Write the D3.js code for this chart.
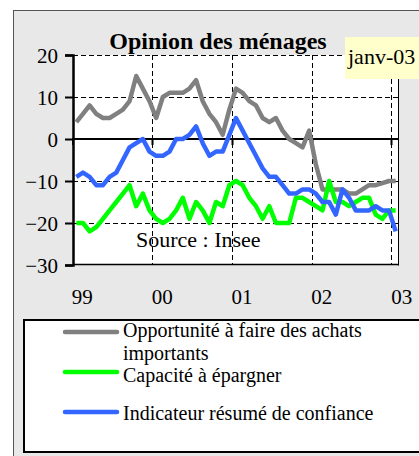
<!DOCTYPE html>
<html>
<head>
<meta charset="utf-8">
<script src="https://cdn.jsdelivr.net/npm/d3@7.9.0/dist/d3.min.js"></script>
<style>
  html, body { margin: 0; padding: 0; background: #fff; }
  svg { display: block; font-family: "Liberation Serif", "DejaVu Serif", serif; }
</style>
</head>
<body>
<svg id="chart" width="419" height="456"></svg>
<script>
// monthly values, janv-99 .. janv-03
const months = d3.timeMonths(new Date(1999, 0, 1), new Date(2003, 1, 1));

const achats = [4, 6, 8, 6, 5, 5, 6, 7, 9, 15, 12, 9, 5, 10, 11, 11, 11, 12, 14, 9,
  6, 4, 1, 7, 12, 11, 9, 8, 5, 4, 5, 2, 0, -1, -2, 2, -6, -12, -12, -12,
  -12, -13, -13, -12, -11, -11, -10.5, -10, -10];
const epargne = [-20, -20, -22, -21, -19, -17, -15, -13, -11, -16, -13, -17, -19, -20, -19, -17, -14, -19, -15, -17,
  -20, -15, -16, -11, -10, -11, -14, -16, -19, -16, -20, -20, -20, -14, -14, -15, -16, -17, -10, -15,
  -15, -16, -15, -14, -14, -18, -19, -17, -17];
const confiance = [-9, -8, -9, -11, -11, -9, -8, -5, -2, -1, 0, -3, -4, -4, -3, 0, 0, 1, 3, -1,
  -4, -3, -3, 1, 5, 2, -1, -4, -7, -9, -9, -11, -13, -13, -12, -12, -13, -15, -15, -18,
  -12, -14, -17, -17, -17, -16, -17, -17, -22];

const yTicks = [20, 10, 0, -10, -20, -30];
const yearLabels = ['99', '00', '01', '02', '03'];

const series = [
  { name: 'Opportunité à faire des achats', name2: 'importants', values: achats, color: '#808080' },
  { name: 'Capacité à épargner', values: epargne, color: '#00ff00' },
  { name: 'Indicateur résumé de confiance', values: confiance, color: '#3366ff' },
];

const svg = d3.select('#chart');

// outer chart area
svg.append('rect')
  .attr('x', 13.5).attr('y', 10.5).attr('width', 420).attr('height', 460)
  .attr('fill', '#e8e8e8').attr('stroke', '#555').attr('stroke-width', 1);

const x = d3.scaleBand().domain(d3.range(months.length)).range([73, 399]);
const y = d3.scaleLinear().domain([-30, 20]).range([265, 55]);
const cx = (i) => x(i) + x.bandwidth() / 2;

// plot area
svg.append('rect')
  .attr('x', 73).attr('y', y(20)).attr('width', 399 - 73).attr('height', y(-30) - y(20))
  .attr('fill', '#fff');

const grid = svg.append('g').attr('stroke', '#000').attr('stroke-width', 1).attr('stroke-dasharray', '5,3');
yTicks.filter((t) => t !== 0 && t !== -30).forEach((t) => {
  grid.append('line')
    .attr('x1', 73).attr('x2', 398.5)
    .attr('y1', Math.round(y(t)) + 0.5).attr('y2', Math.round(y(t)) + 0.5);
});
yearLabels.forEach((lab, k) => {
  if (k === 0) return;
  const gx = Math.round(x(k * 12)) - 0.5;
  grid.append('line').attr('x1', gx).attr('x2', gx).attr('y1', y(20)).attr('y2', y(-30));
});

// borders of plot area
svg.append('line').attr('x1', 398.5).attr('x2', 398.5).attr('y1', y(20)).attr('y2', y(-30) + 0.5)
  .attr('stroke', '#000');
svg.append('line').attr('x1', 73).attr('x2', 399).attr('y1', y(-30) - 0.5).attr('y2', y(-30) - 0.5)
  .attr('stroke', '#000').attr('stroke-width', 1.5);

// y axis
const yAxis = svg.append('g').attr('transform', 'translate(73,0)')
  .call(d3.axisLeft(y).tickValues(yTicks).tickSize(8).tickFormat(d3.format('d')));
yAxis.attr('font-family', null).attr('font-size', null);
yAxis.select('.domain').attr('stroke', '#000').attr('stroke-width', 2.5);
yAxis.selectAll('.tick line').attr('stroke', '#000').attr('stroke-width', 2);
yAxis.selectAll('.tick text')
  .attr('x', -15).attr('dy', '0.34em')
  .attr('font-size', 21).attr('fill', '#000');

// zero line with year ticks
const xAxis = svg.append('g').attr('transform', `translate(0,${y(0)})`)
  .call(d3.axisBottom(x).tickValues([0, 12, 24, 36, 48]).tickSize(6).tickFormat(''));
xAxis.select('.domain').attr('d', 'M73,0H399').attr('stroke', '#000').attr('stroke-width', 2);
xAxis.selectAll('.tick')
  .attr('transform', (d) => `translate(${d === 0 ? 73 : Math.round(x(d)) - 0.5},0)`);
xAxis.selectAll('.tick line').attr('y1', -1).attr('stroke', '#000').attr('stroke-width', 2);

// year labels
svg.append('g').selectAll('text').data(yearLabels).join('text')
  .attr('x', (d, k) => cx(k * 12) + 6)
  .attr('y', 304)
  .attr('text-anchor', 'middle')
  .attr('font-size', 21)
  .text((d) => d);

// source
svg.append('text').attr('x', 136).attr('y', 247).attr('font-size', 22).text('Source : Insee');

// lines
const line = d3.line().x((d, i) => cx(i)).y((d) => y(d));
series.forEach((s) => {
  svg.append('path')
    .datum(s.values)
    .attr('d', line)
    .attr('fill', 'none')
    .attr('stroke', s.color)
    .attr('stroke-width', 4.5)
    .attr('stroke-linejoin', 'round');
});

// title
svg.append('text').attr('x', 218).attr('y', 49)
  .attr('text-anchor', 'middle').attr('font-weight', 'bold').attr('font-size', 24)
  .text('Opinion des ménages');

// date label box
svg.append('rect').attr('x', 345).attr('y', 37).attr('width', 80).attr('height', 42).attr('fill', '#ffffcc');
svg.append('text').attr('x', 348).attr('y', 64).attr('font-size', 22).text('janv-03');

// legend
const legend = svg.append('g');
legend.append('rect')
  .attr('x', 24).attr('y', 320).attr('width', 410).attr('height', 132)
  .attr('fill', '#fff').attr('stroke', '#000').attr('stroke-width', 2);
const legY = [332, 372, 412];
const textY = [337, 382, 420];
series.forEach((s, k) => {
  legend.append('line')
    .attr('x1', 65).attr('x2', 117).attr('y1', legY[k]).attr('y2', legY[k])
    .attr('stroke', s.color).attr('stroke-width', 4.5).attr('stroke-linecap', 'round');
  legend.append('text').attr('x', 123).attr('y', textY[k]).attr('font-size', 20).text(s.name);
  if (s.name2) {
    legend.append('text').attr('x', 123).attr('y', textY[k] + 22.5).attr('font-size', 20).text(s.name2);
  }
});
</script>
</body>
</html>
